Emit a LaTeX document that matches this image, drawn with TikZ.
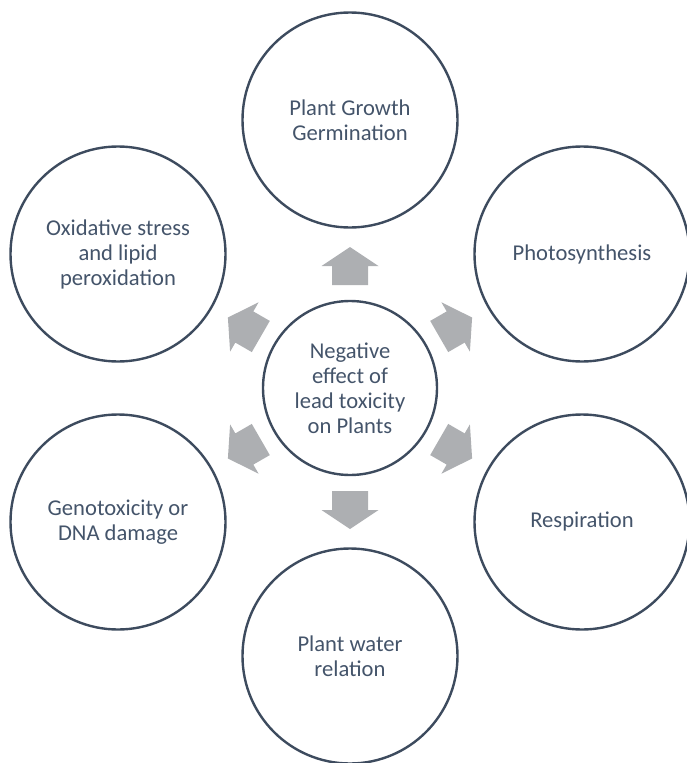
\documentclass[tikz,border=0pt]{standalone}
\usepackage{fontspec}
\setmainfont{Carlito}
\definecolor{ringline}{HTML}{3D4B5E}
\definecolor{ringtext}{HTML}{44546A}
\definecolor{arrowfill}{HTML}{ADAFB2}
\tikzset{
  ring/.style={circle, draw=ringline, line width=2.4pt, inner sep=0pt,
    minimum size=215pt, align=center, text=ringtext,
    font=\fontsize{22.6}{25}\selectfont},
  hub/.style={ring, minimum size=174pt},
  blockarrow/.style={fill=arrowfill, draw=none}
}
\begin{document}
\begin{tikzpicture}[x=1pt, y=-1pt]
  \useasboundingbox (0,0) rectangle (686,763);
  % central cause
  \node[hub] (C) at (350,388) {Negative\\effect of\\lead toxicity\\on Plants};
  % effects arranged around it
  \node[ring] (growth) at (350,120) {Plant Growth\\Germination};
  \node[ring] (photo)  at (582,254) {Photosynthesis};
  \node[ring] (resp)   at (582,522) {Respiration};
  \node[ring] (water)  at (350,656) {Plant water\\relation};
  \node[ring] (geno)   at (118,522) {Genotoxicity or\\DNA damage};
  \node[ring] (oxid)   at (118,254) {Oxidative stress\\and lipid\\peroxidation};
  % block arrows pointing outwards from the hub
  \foreach \a in {30,90,...,330} {
    \begin{scope}[shift={(C.center)}, rotate=\a]
      \fill[blockarrow] (103,-18) -- (122,-18) -- (122,-28.5) -- (141,0)
        -- (122,28.5) -- (122,18) -- (103,18) -- cycle;
    \end{scope}
  }
\end{tikzpicture}
\end{document}
